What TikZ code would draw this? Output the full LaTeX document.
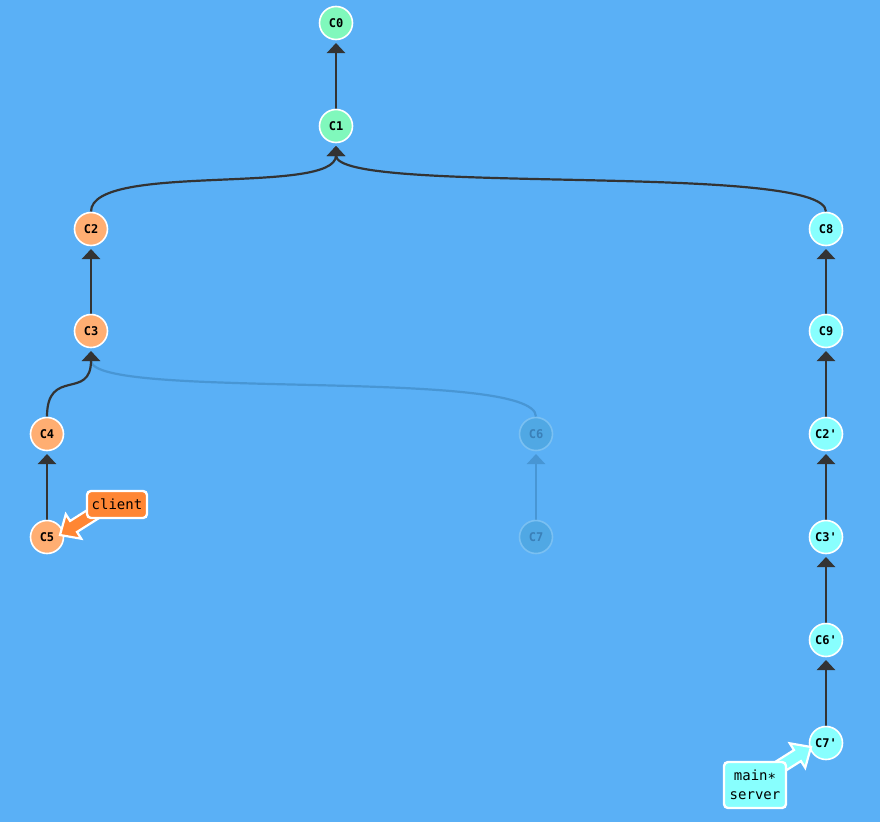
\documentclass[tikz,border=0pt]{standalone}
\usepackage{fontspec}
\setmonofont{DejaVu Sans Mono}
\usetikzlibrary{calc,arrows.meta}
\pgfdeclarelayer{bglayer}
\pgfdeclarelayer{edges}
\pgfsetlayers{bglayer,edges,main}
\definecolor{bg}{RGB}{90,176,246}
\definecolor{cgreen}{RGB}{128,248,188}
\definecolor{corange}{RGB}{255,174,114}
\definecolor{ccyan}{RGB}{136,255,254}
\definecolor{lclient}{RGB}{255,134,52}
\definecolor{edgec}{RGB}{51,51,51}
\definecolor{ghostfill}{RGB}{80,168,228}
\definecolor{ghostdraw}{RGB}{122,192,242}
\definecolor{ghosttext}{RGB}{58,128,184}
\definecolor{ghostline}{RGB}{72,150,212}
\begin{document}
\begin{tikzpicture}[x=1pt,y=-1pt,
  commit/.style={circle,draw=white,line width=1.6pt,minimum size=33pt,inner sep=0pt,
    font=\fontsize{12}{14}\selectfont\ttfamily\bfseries,text=black},
  gc/.style={commit,fill=cgreen},
  oc/.style={commit,fill=corange},
  cc/.style={commit,fill=ccyan},
  ghost/.style={commit,fill=ghostfill,draw=ghostdraw,text=ghosttext},
  edge/.style={draw=edgec,line width=2.2pt,-{Triangle[width=18pt,length=10pt]}},
  ghostedge/.style={edge,draw=ghostline},
  branchbox/.style={rectangle,rounded corners=4pt,draw=white,line width=2.4pt,inner sep=0pt,
    font=\fontsize{14}{19}\selectfont\ttfamily,text=black,align=center},
  brancharrow/.style={draw=white,line width=2.2pt,line join=miter}
]
\begin{pgfonlayer}{bglayer}
\fill[bg] (0,0) rectangle (880,822);
\end{pgfonlayer}
\useasboundingbox (0,0) rectangle (880,822);

% commits
\node[gc] (c0) at (336,23) {C0};
\node[gc] (c1) at (336,126) {C1};
\node[oc] (c2) at (91,229) {C2};
\node[oc] (c3) at (91,331) {C3};
\node[oc] (c4) at (47,434) {C4};
\node[oc] (c5) at (47,537) {C5};
\node[ghost] (c6) at (536,434) {C6};
\node[ghost] (c7) at (536,537) {C7};
\node[cc] (c8) at (826,229) {C8};
\node[cc] (c9) at (826,331) {C9};
\node[cc] (c2p) at (826,434) {C2'};
\node[cc] (c3p) at (826,537) {C3'};
\node[cc] (c6p) at (826,640) {C6'};
\node[cc] (c7p) at (826,743) {C7'};

% edges
\begin{pgfonlayer}{edges}
\draw[edge] (c1.north) -- ($(c0)+(0,20)$);
\draw[edge] (c2.north) .. controls +(0,-50) and +(0,50) .. ($(c1)+(0,20)$);
\draw[edge] (c8.north) .. controls +(0,-50) and +(0,50) .. ($(c1)+(0,20)$);
\draw[edge] (c3.north) -- ($(c2)+(0,20)$);
\draw[ghostedge] (c6.north) .. controls +(0,-50) and +(0,50) .. ($(c3)+(0,20)$);
\draw[edge] (c4.north) .. controls +(0,-50) and +(0,50) .. ($(c3)+(0,20)$);
\draw[edge] (c5.north) -- ($(c4)+(0,20)$);
\draw[ghostedge] (c7.north) -- ($(c6)+(0,20)$);
\draw[edge] (c9.north) -- ($(c8)+(0,20)$);
\draw[edge] (c2p.north) -- ($(c9)+(0,20)$);
\draw[edge] (c3p.north) -- ($(c2p)+(0,20)$);
\draw[edge] (c6p.north) -- ($(c3p)+(0,20)$);
\draw[edge] (c7p.north) -- ($(c6p)+(0,20)$);
\end{pgfonlayer}

% branch arrows
\coordinate (ct) at (60,535);
\coordinate (cb) at (98,511);
\coordinate (ch) at ($(ct)!16pt!(cb)$);
\draw[brancharrow,fill=lclient] (ct) -- ($(ch)!14.5pt!90:(cb)$) -- ($(ch)!6.5pt!90:(cb)$)
  -- ($(cb)!6.5pt!-90:(ct)$) -- ($(cb)!6.5pt!90:(ct)$) -- ($(ch)!6.5pt!-90:(cb)$)
  -- ($(ch)!14.5pt!-90:(cb)$) -- cycle;

\coordinate (st) at (811,747);
\coordinate (sb) at (773,771);
\coordinate (sh) at ($(st)!16pt!(sb)$);
\draw[brancharrow,fill=ccyan] (st) -- ($(sh)!14.5pt!90:(sb)$) -- ($(sh)!6.5pt!90:(sb)$)
  -- ($(sb)!6.5pt!-90:(st)$) -- ($(sb)!6.5pt!90:(st)$) -- ($(sh)!6.5pt!-90:(sb)$)
  -- ($(sh)!14.5pt!-90:(sb)$) -- cycle;

% branch labels
\node[branchbox,fill=lclient,minimum width=60pt,minimum height=27pt] (bclient) at (117,504.5) {client};
\node[branchbox,fill=ccyan,minimum width=62pt,minimum height=46pt] (bmain) at (755,785) {main\raisebox{-2.5pt}{*}\\server};
\end{tikzpicture}
\end{document}
